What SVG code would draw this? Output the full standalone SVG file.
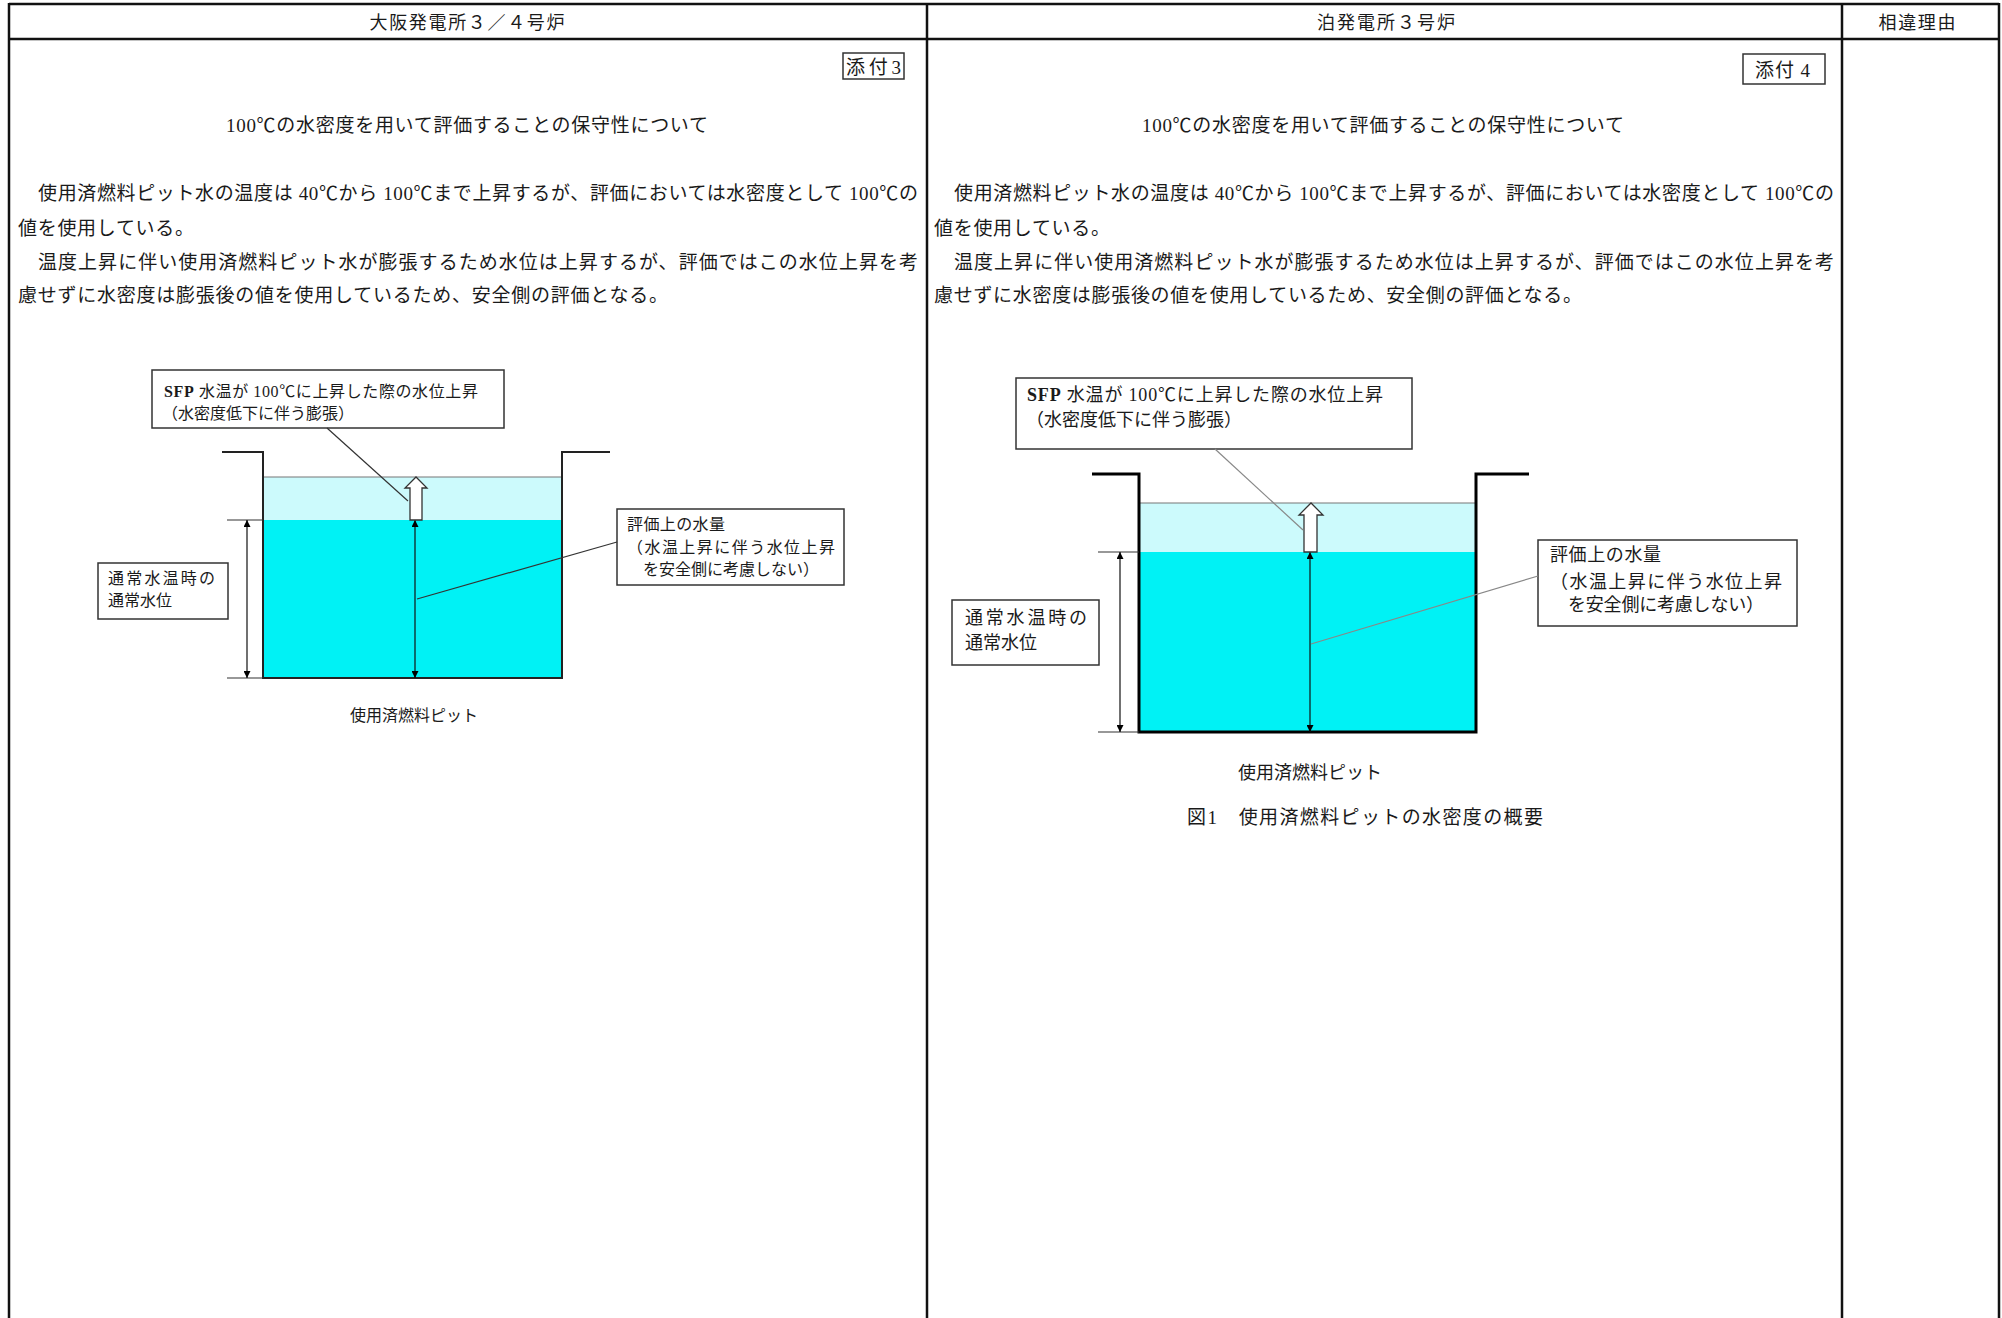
<svg xmlns="http://www.w3.org/2000/svg" width="2002" height="1318" viewBox="0 0 2002 1318">
<defs>
<style>
text{font-family:"Liberation Serif","Noto Sans CJK JP",sans-serif;fill:#1a1a1a}
.h{font-size:18px;text-anchor:middle}
.b{font-size:19px}
.t{font-size:19px;text-anchor:middle}
.s16{font-size:16px}
.s18{font-size:18px}
.c{text-anchor:middle}
.tb{fill:none;stroke:#111;stroke-width:2.5}
.box{fill:#fff;stroke:#333;stroke-width:1.5}
.wall1{fill:none;stroke:#222;stroke-width:2}
.wall2{fill:none;stroke:#000;stroke-width:3}
.lw{fill:#ccfafc}
.cw{fill:#00f2f5}
.wl{stroke:#777;stroke-width:1.2}
.ext{stroke:#333;stroke-width:1.2}
.dim{stroke:#111;stroke-width:1.2;marker-start:url(#ah);marker-end:url(#ah)}
.lead1{stroke:#333;stroke-width:1.2;fill:none}
.lead2{stroke:#888;stroke-width:1.2;fill:none}
.hollow{fill:#fff;stroke:#333;stroke-width:1.3}
</style>
<marker id="ah" viewBox="0 0 10 10" refX="10" refY="5" markerWidth="10" markerHeight="7" markerUnits="userSpaceOnUse" orient="auto-start-reverse">
<path d="M0,0 L10,5 L0,10 z" fill="#000"/>
</marker>
</defs>
<rect width="2002" height="1318" fill="#fff"/>

<g id="table">
<line class="tb" x1="9" y1="4" x2="1999" y2="4" stroke-width="3"/>
<line class="tb" x1="9" y1="39" x2="1999" y2="39" stroke-width="3.5"/>
<line class="tb" x1="9" y1="3" x2="9" y2="1318"/>
<line class="tb" x1="927" y1="3" x2="927" y2="1318" stroke-width="2"/>
<line class="tb" x1="1842" y1="3" x2="1842" y2="1318" stroke-width="2"/>
<line class="tb" x1="1999" y1="3" x2="1999" y2="1318"/>
<text class="h" x="467" y="29" textLength="195">大阪発電所３／４号炉</text>
<text class="h" x="1386" y="29" textLength="138">泊発電所３号炉</text>
<text class="h" x="1917" y="29" textLength="77">相違理由</text>
</g>

<g id="left-text">
<g id="tag3"><rect class="box" x="843" y="53" width="61" height="26" stroke="#222"/><text class="b" x="846" y="74" textLength="55" fill="#444">添付3</text></g>
<text class="t" x="467" y="132" textLength="482">100℃の水密度を用いて評価することの保守性について</text>
<text class="b" x="38" y="200" textLength="880">使用済燃料ピット水の温度は 40℃から 100℃まで上昇するが、評価においては水密度として 100℃の</text>
<text class="b" x="18" y="235" textLength="176">値を使用している。</text>
<text class="b" x="38" y="269" textLength="880">温度上昇に伴い使用済燃料ピット水が膨張するため水位は上昇するが、評価ではこの水位上昇を考</text>
<text class="b" x="18" y="302" textLength="650">慮せずに水密度は膨張後の値を使用しているため、安全側の評価となる。</text>
</g>

<g id="right-text">
<g id="tag4"><rect class="box" x="1743" y="54" width="82" height="30" stroke="#222"/><text class="b" x="1755" y="77" textLength="55" fill="#444">添付 4</text></g>
<text class="t" x="1383" y="132" textLength="482">100℃の水密度を用いて評価することの保守性について</text>
<text class="b" x="954" y="200" textLength="880">使用済燃料ピット水の温度は 40℃から 100℃まで上昇するが、評価においては水密度として 100℃の</text>
<text class="b" x="934" y="235" textLength="176">値を使用している。</text>
<text class="b" x="954" y="269" textLength="880">温度上昇に伴い使用済燃料ピット水が膨張するため水位は上昇するが、評価ではこの水位上昇を考</text>
<text class="b" x="934" y="302" textLength="648">慮せずに水密度は膨張後の値を使用しているため、安全側の評価となる。</text>
</g>

<g id="pit-left">
<rect class="lw" x="263" y="477" width="299" height="43"/>
<rect class="cw" x="263" y="520" width="299" height="158"/>
<line class="wl" x1="263" y1="477" x2="562" y2="477"/>
<polyline class="wall1" points="222,452 263,452 263,678 562,678 562,452 610,452"/>
<line class="ext" x1="227" y1="520" x2="263" y2="520"/>
<line class="ext" x1="227" y1="678" x2="263" y2="678"/>
<text class="s16 c" x="414" y="721">使用済燃料ピット</text>
</g>

<g id="sfp-label-left"><rect class="box" x="152" y="370" width="352" height="58"/>
<text class="s16" x="164" y="397" textLength="314"><tspan font-weight="bold">SFP</tspan> 水温が 100℃に上昇した際の水位上昇</text>
<text class="s16" x="162" y="419">（水密度低下に伴う膨張）</text></g>
<g id="normal-label-left"><rect class="box" x="98" y="563" width="130" height="56"/>
<text class="s16" x="108" y="584" textLength="107">通常水温時の</text>
<text class="s16" x="108" y="606">通常水位</text></g>
<g id="eval-label-left"><rect class="box" x="617" y="509" width="227" height="76"/>
<text class="s16" x="627" y="530" textLength="98">評価上の水量</text>
<text class="s16" x="627" y="553" textLength="208">（水温上昇に伴う水位上昇</text>
<text class="s16" x="643" y="575" textLength="176">を安全側に考慮しない）</text></g>

<g id="pit-right">
<rect class="lw" x="1139" y="503" width="337" height="49"/>
<rect class="cw" x="1139" y="552" width="337" height="180"/>
<line class="wl" x1="1139" y1="503" x2="1476" y2="503"/>
<polyline class="wall2" points="1092,474 1139,474 1139,732 1476,732 1476,474 1529,474"/>
<line class="ext" x1="1098" y1="552" x2="1139" y2="552"/>
<line class="ext" x1="1098" y1="732" x2="1139" y2="732"/>
<text class="s18 c" x="1310" y="779">使用済燃料ピット</text>
<text class="c" x="1365" y="824" font-size="19" textLength="356">図1　使用済燃料ピットの水密度の概要</text>
</g>

<g id="sfp-label-right"><rect class="box" x="1016" y="378" width="396" height="71"/>
<text class="s18" x="1027" y="401" textLength="356"><tspan font-weight="bold">SFP</tspan> 水温が 100℃に上昇した際の水位上昇</text>
<text class="s18" x="1026" y="426">（水密度低下に伴う膨張）</text></g>
<g id="normal-label-right"><rect class="box" x="952" y="600" width="147" height="65"/>
<text class="s18" x="965" y="624" textLength="122">通常水温時の</text>
<text class="s18" x="965" y="649">通常水位</text></g>
<g id="eval-label-right"><rect class="box" x="1538" y="540" width="259" height="86"/>
<text class="s18" x="1550" y="561" textLength="111">評価上の水量</text>
<text class="s18" x="1550" y="588" textLength="232">（水温上昇に伴う水位上昇</text>
<text class="s18" x="1568" y="611" textLength="196">を安全側に考慮しない）</text></g>

<g id="connectors">
<line class="dim" x1="247" y1="520" x2="247" y2="678"/>
<line class="dim" x1="415" y1="520" x2="415" y2="678"/>
<polygon class="hollow" points="410,520 410,488 405,488 416,477 427,488 422,488 422,520"/>
<line class="lead1" x1="327" y1="428" x2="408" y2="501"/>
<line class="lead1" x1="617" y1="542" x2="417" y2="599"/>
<line class="dim" x1="1120" y1="552" x2="1120" y2="732"/>
<line class="dim" x1="1310" y1="552" x2="1310" y2="732"/>
<polygon class="hollow" points="1304,552 1304,515 1299,515 1311,503 1323,515 1317,515 1317,552"/>
<line class="lead2" x1="1215" y1="449" x2="1303" y2="530"/>
<line class="lead2" x1="1538" y1="576" x2="1311" y2="644"/>
</g>
</svg>
